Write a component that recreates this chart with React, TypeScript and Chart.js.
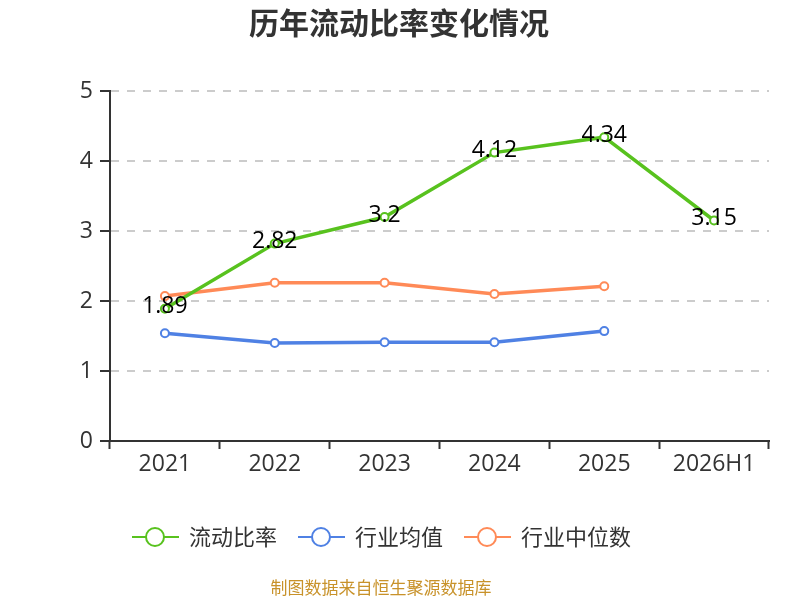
import React, { useEffect, useRef } from 'react';
import { Chart, registerables, Plugin } from 'chart.js';

Chart.register(...registerables);

// categories and series
const years = ['2021', '2022', '2023', '2024', '2025', '2026H1'];
const currentRatio = [1.89, 2.82, 3.2, 4.12, 4.34, 3.15];
const industryMean = [1.54, 1.4, 1.41, 1.41, 1.57, null];
const industryMedian = [2.07, 2.26, 2.26, 2.1, 2.21, null];
const yTicks = [0, 1, 2, 3, 4, 5];

const seriesNames = ['流动比率', '行业均值', '行业中位数'];
const seriesColors = ['#58c21e', '#4f81e4', '#ff8a57'];

const FONT = '"Noto Sans CJK SC", "Noto Sans", sans-serif';
const NUM_FONT = '"Open Sans", "Noto Sans CJK SC", sans-serif';
const titleText = '历年流动比率变化情况';
const sourceText = '制图数据来自恒生聚源数据库';

// draws title, legend, source note and value labels
const decorPlugin: Plugin<'line'> = {
    id: 'decor',
    afterDatasetsDraw(chart) {
        const ctx = chart.ctx;
        const meta = chart.getDatasetMeta(0);
        ctx.save();
        ctx.font = `23px ${NUM_FONT}`;
        ctx.fillStyle = '#000';
        ctx.textAlign = 'center';
        ctx.textBaseline = 'middle';
        meta.data.forEach((pt, i) => {
            const v = currentRatio[i];
            if (v == null) return;
            ctx.fillText(String(v), pt.x, pt.y - 2);
        });
        ctx.restore();
    },
    afterDraw(chart) {
        const ctx = chart.ctx;
        ctx.save();
        // title
        ctx.font = `bold 30px ${FONT}`;
        ctx.fillStyle = '#333';
        ctx.textAlign = 'center';
        ctx.textBaseline = 'middle';
        ctx.fillText(titleText, 399, 23);

        // legend
        ctx.font = `22px ${FONT}`;
        ctx.textAlign = 'left';
        let x = 132;
        const y = 537;
        seriesNames.forEach((name, i) => {
            const c = seriesColors[i];
            ctx.strokeStyle = c;
            ctx.lineWidth = 2;
            ctx.beginPath();
            ctx.moveTo(x, y);
            ctx.lineTo(x + 47, y);
            ctx.stroke();
            ctx.beginPath();
            ctx.arc(x + 23, y, 9, 0, Math.PI * 2);
            ctx.fillStyle = '#fff';
            ctx.fill();
            ctx.stroke();
            ctx.fillStyle = '#333';
            ctx.fillText(name, x + 57, y);
            x += 57 + ctx.measureText(name).width + 21;
        });

        // source note
        ctx.font = `17px ${FONT}`;
        ctx.fillStyle = '#c8922a';
        ctx.textAlign = 'center';
        ctx.fillText(sourceText, 381, 588);
        ctx.restore();
    },
};

export default function App() {
    const canvasRef = useRef<HTMLCanvasElement>(null);

    useEffect(() => {
        document.body.style.margin = '0';
        if (!canvasRef.current) return;
        const lineDs = (label: string, data: (number | null)[], color: string) => ({
            label,
            data,
            borderColor: color,
            backgroundColor: color,
            borderWidth: 3.5,
            pointRadius: 4,
            pointHoverRadius: 4,
            pointBorderWidth: 2,
            pointBackgroundColor: '#fff',
            pointBorderColor: color,
            tension: 0,
        });
        const chart = new Chart(canvasRef.current, {
            type: 'line',
            data: {
                labels: years,
                datasets: [
                    lineDs(seriesNames[0], currentRatio, seriesColors[0]),
                    lineDs(seriesNames[1], industryMean, seriesColors[1]),
                    lineDs(seriesNames[2], industryMedian, seriesColors[2]),
                ],
            },
            options: {
                responsive: false,
                animation: false,
                events: [],
                layout: { padding: { top: 91, left: 0, right: 31, bottom: 100 } },
                plugins: {
                    legend: { display: false },
                    title: { display: false },
                    tooltip: { enabled: false },
                },
                scales: {
                    x: {
                        offset: true,
                        grid: {
                            display: true,
                            drawOnChartArea: false,
                            drawTicks: true,
                            tickLength: 8,
                            tickColor: '#333',
                            tickWidth: 2,
                            offset: true,
                        },
                        border: { display: true, color: '#333', width: 2 },
                        ticks: { color: '#333', font: { size: 23, family: NUM_FONT }, padding: 2, maxRotation: 0 },
                        afterFit: (s: any) => { s.height = 59; },
                    },
                    y: {
                        min: 0,
                        max: 5,
                        afterBuildTicks: (s: any) => { s.ticks = yTicks.map(v => ({ value: v })); },
                        grid: {
                            color: '#cccccc',
                            lineWidth: 2,
                            tickColor: '#333',
                            tickWidth: 2,
                            tickLength: 10,
                            tickBorderDash: [],
                        },
                        border: { display: true, color: '#333', width: 2, dash: [8, 8] },
                        ticks: { color: '#333', font: { size: 23, family: NUM_FONT }, padding: 7 },
                        afterFit: (s: any) => { s.width = 110; },
                    },
                },
            },
            plugins: [decorPlugin],
        });
        return () => chart.destroy();
    }, []);

    return (
        <div style={{ width: 800, height: 600, background: '#fff' }}>
            <canvas ref={canvasRef} width={800} height={600} />
        </div>
    );
}
